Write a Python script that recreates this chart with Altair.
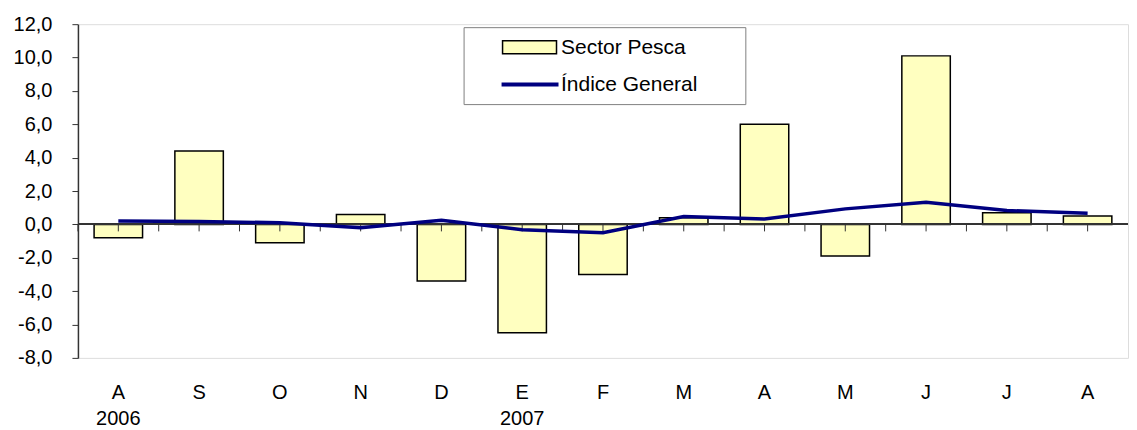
import json
import altair as alt
import pandas as pd

# ---- data ----
months = ["A", "S", "O", "N", "D", "E", "F", "M", "A", "M", "J", "J", "A"]
years = ["2006", "", "", "", "", "2007", "", "", "", "", "", "", ""]
sector_pesca = [-0.8, 4.4, -1.1, 0.6, -3.4, -6.5, -3.0, 0.4, 6.0, -1.9, 10.1, 0.7, 0.5]
indice_general = [0.2, 0.17, 0.1, -0.2, 0.25, -0.32, -0.5, 0.47, 0.32, 0.93, 1.33, 0.83, 0.67]
y_ticks = [-8, -6, -4, -2, 0, 2, 4, 6, 8, 10, 12]
series_names = ["Sector Pesca", "Índice General"]

df = pd.DataFrame({
    "idx": list(range(len(months))),
    "pesca": sector_pesca,
    "general": indice_general,
    "s_bar": series_names[0],
    "s_line": series_names[1],
})

FONT = "Liberation Sans, Arial, sans-serif"
PLOT_W, PLOT_H = 1051, 334
half_step = PLOT_W / len(months) / 2

label_arrays = [[m, y] if y else [m] for m, y in zip(months, years)]
x_label_expr = json.dumps(label_arrays, ensure_ascii=False) + "[datum.value]"
y_label_expr = "replace(replace(format(datum.value, '.1f'), '.', ','), '\u2212', '-')"

x_enc = alt.X(
    "idx:O",
    scale=alt.Scale(paddingInner=0.4, paddingOuter=0.2),
    axis=alt.Axis(
        title=None, domain=False, ticks=False, labelAngle=0,
        labelExpr=x_label_expr, labelFontSize=20, labelPadding=25,
        labelLineHeight=26, labelOverlap=False, labelColor="black", labelFont=FONT,
    ),
)
y_scale = alt.Scale(domain=[-8, 12], nice=False, zero=False)
y_axis = alt.Axis(
    title=None, values=y_ticks, tickCount=len(y_ticks), grid=False, labelOverlap=False,
    labelExpr=y_label_expr,
    labelFontSize=20, labelPadding=20, labelColor="black", labelFont=FONT,
    domainColor="#333333", domainWidth=1.5, tickColor="#333333", tickSize=6, tickWidth=1,
)

bars = alt.Chart(df).mark_bar(stroke="black", strokeWidth=1.5).encode(
    x=x_enc,
    y=alt.Y("pesca:Q", scale=y_scale, axis=y_axis),
    fill=alt.Fill(
        "s_bar:N",
        scale=alt.Scale(domain=[series_names[0]], range=["#FFFFC0"]),
        legend=alt.Legend(
            title=None, orient="none", legendX=386, legendY=3, padding=9,
            symbolType="M-2.7,-0.65L2.7,-0.65L2.7,0.65L-2.7,0.65Z", symbolSize=400,
            symbolStrokeColor="black", symbolStrokeWidth=1.5, symbolOffset=46,
            symbolOpacity=1, labelExpr="''", zindex=2,
        ),
    ),
)

zero_line = alt.Chart(df).mark_rule(color="#333333", strokeWidth=1.2).encode(
    y=alt.Y("zero:Q", scale=y_scale, axis=y_axis)
).transform_calculate(zero="0")

ticks_center = alt.Chart(df).mark_rule(color="#333333", strokeWidth=1, y2Offset=7).encode(
    x=alt.X("idx:O"), y=alt.Y("zero:Q", scale=y_scale, axis=y_axis), y2="zero:Q"
).transform_calculate(zero="0")
ticks_bound = alt.Chart(df).mark_rule(
    color="#333333", strokeWidth=1, y2Offset=7, xOffset=-half_step
).encode(
    x=alt.X("idx:O"), y=alt.Y("zero:Q", scale=y_scale, axis=y_axis), y2="zero:Q"
).transform_calculate(zero="0")

line = alt.Chart(df).mark_line(strokeWidth=3.5).encode(
    x=alt.X("idx:O"),
    y=alt.Y("general:Q", scale=y_scale, axis=y_axis),
    stroke=alt.Stroke(
        "s_line:N",
        scale=alt.Scale(domain=series_names, range=["rgba(0,0,0,0)", "#000080"]),
        legend=alt.Legend(
            title="XX", titleOrient="right", titleFontSize=10, titlePadding=25,
            titleColor="rgba(0,0,0,0)",
            orient="none", legendX=386, legendY=3, padding=9,
            strokeColor="#808080", fillColor="white",
            symbolType="M-2.85,0L2.85,0", symbolSize=400, symbolStrokeWidth=4,
            symbolOffset=45.5, labelOffset=19, rowPadding=14.5,
            labelFontSize=21, labelColor="black", labelFont=FONT, labelLimit=400,
            zindex=1,
        ),
    ),
)

chart = (
    alt.layer(bars, zero_line, ticks_center, ticks_bound, line)
    .properties(width=PLOT_W, height=PLOT_H,
                padding={"left": 5, "top": 6, "right": 0, "bottom": 0})
    .configure_view(stroke="#808080", strokeWidth=1.5)
    .configure_axisY(labelOverlap=False)
    .configure(font=FONT)
)

chart.save("out.html", embed_options={"renderer": "svg", "actions": False})
